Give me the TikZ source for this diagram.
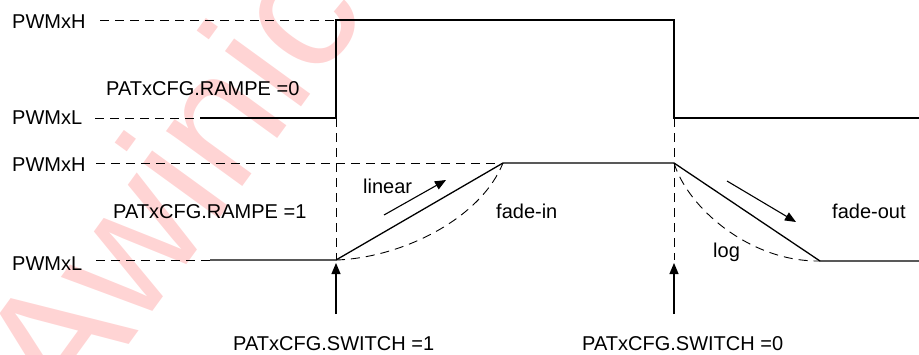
\documentclass[tikz,border=0pt]{standalone}
\usepackage{fontspec}
\setmainfont{Liberation Sans}
\usetikzlibrary{arrows.meta,positioning,calc}

\begin{document}
\begin{tikzpicture}[x=1pt,y=-1pt,
    wave/.style={line width=1.3pt},
    guide/.style={line width=0.9pt,dash pattern=on 9pt off 6pt},
    lbl/.style={anchor=base west,inner sep=0pt,font=\fontsize{20}{24}\selectfont},
    pointer/.style={line width=1.1pt,-{Triangle[length=11pt,width=9pt]}}]
  \useasboundingbox (0,0) rectangle (919,354);
  % watermark
  \begin{scope}
    \clip (0,0) rectangle (919,354);
    \node[rotate=54,text=red!17,inner sep=0pt,font=\fontsize{178}{178}\selectfont] (mark) at (168,182) {Awinic};
  \end{scope}

  % RAMPE = 0
  \node[lbl] (topH) at (12,28) {PWMxH};
  \node[lbl] (topL) at (12,124) {PWMxL};
  \node[lbl] (rampoff) at (106,95) {PATxCFG.RAMPE =0};
  \coordinate (topHs) at (100,20);
  \coordinate (topLs) at (95,118);
  \coordinate (topLm) at (200,118);
  \coordinate (upB) at (336,118);
  \coordinate (upT) at (336,20);
  \coordinate (dnT) at (674,20);
  \coordinate (dnB) at (674,118);
  \coordinate (topE) at (919,118);
  \draw[guide] (topHs) -- (upT);
  \draw[guide] (topLs) -- (topLm);
  \draw[wave] (topLm) -- (upB) -- (upT) -- (dnT) -- (dnB) -- (topE);

  % RAMPE = 1
  \node[lbl] (botH) at (12,171) {PWMxH};
  \node[lbl] (botL) at (12,270) {PWMxL};
  \node[lbl] (rampon) at (113,218) {PATxCFG.RAMPE =1};
  \coordinate (botHs) at (96,163);
  \coordinate (botLs) at (96,260);
  \coordinate (botLm) at (210,260);
  \coordinate (inS) at (336,260);
  \coordinate (inE) at (503,163);
  \coordinate (outS) at (674,163);
  \coordinate (outE) at (820,261);
  \coordinate (botE) at (919,261);
  \draw[guide] (botHs) -- (inE);
  \draw[guide] (botLs) -- (botLm);
  \draw[guide] (upB) -- (inS);
  \draw[guide] (dnB) -- (outS |- inS);
  \draw[wave] (botLm) -- (inS) -- (inE) -- (outS) -- (outE) -- (botE);
  \draw[guide] (inS) .. controls (400,258) and (480,220) .. (inE);
  \draw[guide] (outS) .. controls (688,208) and (750,262) .. (outE);

  % slope hints
  \node[lbl] (lin) at (363,193) {linear};
  \node[lbl] (fin) at (496,218) {fade-in};
  \node[lbl] (fout) at (832,218) {fade-out};
  \node[lbl] (logc) at (713,257) {log};
  \coordinate (linS) at (384,215);
  \coordinate (linE) at (446,180);
  \coordinate (foutS) at (727,181);
  \coordinate (foutE) at (796,222);
  \draw[pointer] (linS) -- (linE);
  \draw[pointer] (foutS) -- (foutE);

  % switch events
  \node[lbl] (swon) at (233,350) {PATxCFG.SWITCH =1};
  \node[lbl] (swoff) at (582,350) {PATxCFG.SWITCH =0};
  \coordinate (swonS) at (336,314);
  \coordinate (swoffS) at (674,314);
  \draw[pointer] (swonS) -- ($(inS)+(0,3)$);
  \draw[pointer] (swoffS) -- ($(outS |- inS)+(0,3)$);
\end{tikzpicture}
\end{document}
